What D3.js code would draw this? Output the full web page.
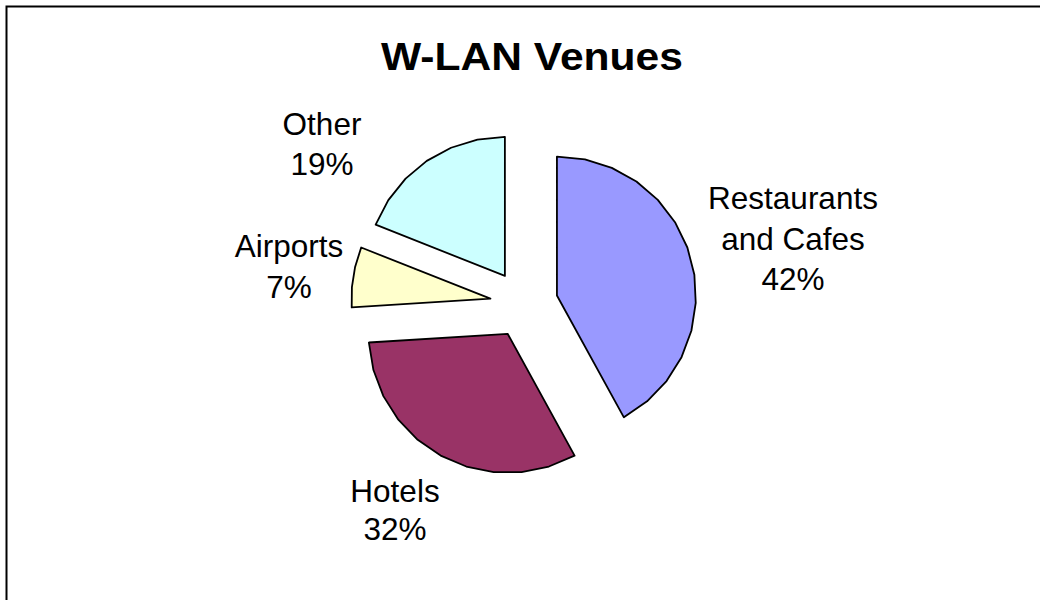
<!DOCTYPE html>
<html>
<head>
<meta charset="utf-8">
<script src="https://cdn.jsdelivr.net/npm/d3@7"></script>
<style>
  body { margin: 0; background: #fff; }
  svg { display: block; }
  text { font-family: "Liberation Sans", Arial, sans-serif; fill: #000; }
</style>
</head>
<body>
<svg id="chart" width="1040" height="600"></svg>
<script>
// data
const venues = ["Restaurants and Cafes", "Hotels", "Airports", "Other"];
const shares = [42, 32, 7, 19];
const labelLines = [["Restaurants", "and Cafes", "42%"], ["Hotels", "32%"], ["Airports", "7%"], ["Other", "19%"]];
const colors = ["#9999FF", "#993366", "#FFFFCC", "#CCFFFF"];

const svg = d3.select("#chart");

// frame (right and bottom edges fall outside the picture)
svg.append("rect")
    .attr("x", 6.5).attr("y", 6.5)
    .attr("width", 1100).attr("height", 700)
    .attr("fill", "none").attr("stroke", "#000").attr("stroke-width", 2);

svg.append("text")
    .attr("x", 532).attr("y", 70)
    .attr("text-anchor", "middle")
    .style("font-weight", "bold")
    .style("font-size", "38px")
    .attr("textLength", 302).attr("lengthAdjust", "spacingAndGlyphs")
    .text("W-LAN Venues");

const cx = 524, cy = 304, r = 139, explode = 34;

const pie = d3.pie().sort(null).value(d => d)(shares);

// excel-like faceted arc: straight segments of ~12.5 degrees
const radial = d3.lineRadial()
    .angle(d => d[0])
    .radius(d => d[1])
    .curve(d3.curveLinearClosed);

function slicePoints(a) {
    const span = a.endAngle - a.startAngle;
    const n = Math.max(2, Math.ceil(span / (12.5 * Math.PI / 180)));
    const pts = [[a.startAngle, 0]];
    for (let i = 0; i <= n; i++) pts.push([a.startAngle + span * i / n, r]);
    return pts;
}

const g = svg.append("g").attr("transform", `translate(${cx},${cy})`);

g.selectAll("path.slice").data(pie)
    .join("path")
    .attr("class", "slice")
    .attr("transform", d => {
        const m = (d.startAngle + d.endAngle) / 2;
        return `translate(${Math.sin(m) * explode},${-Math.cos(m) * explode})`;
    })
    .attr("d", d => radial(slicePoints(d)))
    .attr("fill", (d, i) => colors[i])
    .attr("stroke", "#000")
    .attr("stroke-width", 1.8)
    .attr("stroke-linejoin", "round");

// label anchors (centre x, first baseline)
const labelPos = [[793, 209], [395, 502], [289, 257], [322, 135]];
const lineGap = [40.5, 38, 41, 40];

labelPos.forEach((p, i) => {
    const t = svg.append("text")
        .attr("text-anchor", "middle")
        .style("font-size", "31.5px");
    labelLines[i].forEach((s, k) => {
        t.append("tspan")
            .attr("x", p[0])
            .attr("y", p[1] + k * lineGap[i])
            .text(s);
    });
});
</script>
</body>
</html>
